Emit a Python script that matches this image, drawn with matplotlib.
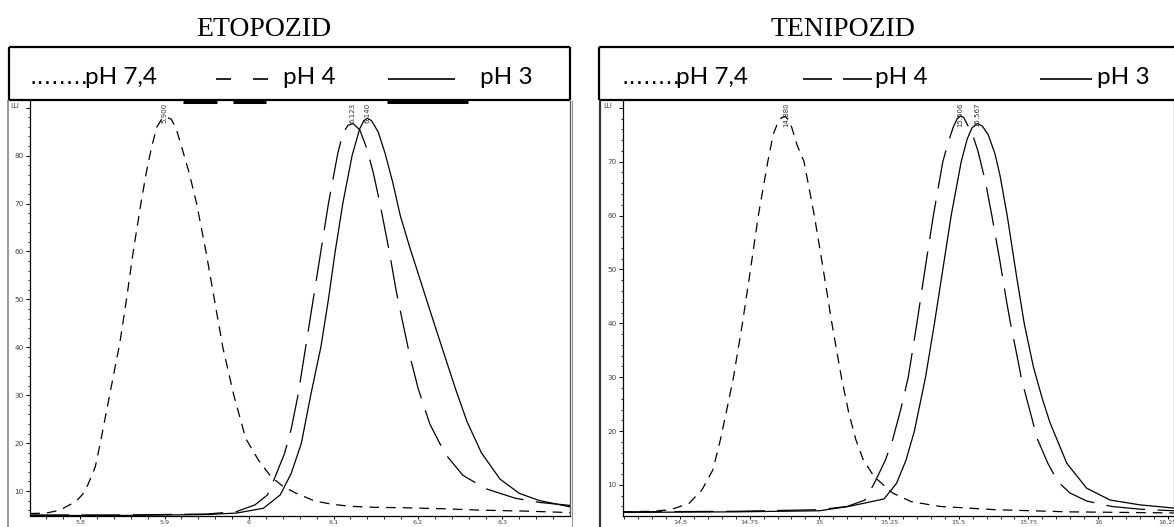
import matplotlib
matplotlib.use("Agg")
import matplotlib.pyplot as plt
from matplotlib.lines import Line2D
from matplotlib.ticker import MultipleLocator, FuncFormatter

# ETOPOZID - chromatogram traces
eto_ph74_x = [5.741, 5.760, 5.776, 5.795, 5.803, 5.809, 5.818, 5.824, 5.835, 5.847,
              5.855, 5.863, 5.872, 5.879, 5.885, 5.891, 5.897, 5.9025, 5.908, 5.914,
              5.920, 5.929, 5.938, 5.949, 5.959, 5.969, 5.982, 5.996, 6.011, 6.026,
              6.040, 6.055, 6.078, 6.100, 6.121, 6.150, 6.187, 6.230, 6.276, 6.330, 6.380]
eto_ph74_y = [5.3, 5.4, 6.0, 7.8, 9.3, 11.2, 15.0, 20.0, 30.0, 40.8,
              50.0, 60.0, 70.0, 77.0, 82.0, 86.0, 87.7, 88.0, 87.6, 85.5,
              82.0, 76.5, 70.0, 60.0, 50.0, 40.0, 30.0, 21.0, 16.5, 13.0,
              11.0, 9.6, 7.9, 7.2, 6.8, 6.6, 6.5, 6.3, 6.0, 5.8, 5.5]

eto_ph4_x = [5.741, 5.850, 5.950, 5.985, 6.007, 6.022, 6.031, 6.042, 6.050, 6.058,
             6.067, 6.076, 6.085, 6.094, 6.105, 6.111, 6.117, 6.123, 6.131, 6.139,
             6.147, 6.155, 6.166, 6.175, 6.181, 6.190, 6.200, 6.214, 6.232, 6.253,
             6.280, 6.315, 6.345, 6.380]
eto_ph4_y = [5.0, 5.0, 5.2, 5.7, 7.1, 9.2, 13.0, 17.8, 23.0, 30.0,
             40.0, 50.0, 60.0, 70.0, 80.4, 84.6, 86.3, 86.7, 85.4, 81.7,
             76.5, 70.0, 60.0, 51.0, 46.0, 38.5, 31.5, 24.0, 17.8, 13.3,
             10.5, 8.5, 7.6, 7.0]

eto_ph3_x = [5.741, 5.850, 5.950, 5.985, 6.017, 6.037, 6.050, 6.062, 6.073, 6.085,
             6.094, 6.102, 6.111, 6.122, 6.131, 6.136, 6.140, 6.145, 6.153, 6.161,
             6.170, 6.179, 6.190, 6.200, 6.210, 6.220, 6.232, 6.245, 6.258, 6.275,
             6.297, 6.320, 6.344, 6.380]
eto_ph3_y = [4.9, 4.9, 5.1, 5.4, 6.4, 9.2, 13.7, 20.0, 30.0, 40.0,
             50.0, 60.0, 70.0, 80.0, 85.6, 87.3, 87.8, 87.3, 84.9, 80.5,
             74.5, 67.5, 61.0, 55.5, 50.0, 44.5, 38.0, 31.0, 24.5, 18.0,
             12.5, 9.5, 8.0, 6.7]

eto_peaks = [5.900, 6.123, 6.140]

# TENIPOZID
ten_ph74_x = [14.296, 14.400, 14.467, 14.533, 14.579, 14.618, 14.645, 14.668, 14.692, 14.724,
              14.753, 14.781, 14.815, 14.834, 14.852, 14.865, 14.877, 14.890, 14.902, 14.920,
              14.945, 14.982, 15.014, 15.045, 15.079, 15.105, 15.131, 15.158, 15.197, 15.263,
              15.329, 15.434, 15.632, 15.895, 16.272]
ten_ph74_y = [5.0, 5.1, 5.4, 6.6, 9.1, 12.8, 18.4, 24.0, 30.0, 40.0,
              50.0, 60.0, 70.0, 75.0, 77.4, 78.2, 78.4, 77.8, 76.2, 73.1,
              70.0, 60.0, 50.0, 40.0, 30.0, 23.5, 18.4, 14.6, 11.5, 8.5,
              6.9, 6.0, 5.4, 5.0, 4.8]

ten_ph4_x = [14.296, 14.700, 15.000, 15.100, 15.164, 15.197, 15.237, 15.263, 15.292, 15.319,
             15.350, 15.379, 15.409, 15.443, 15.463, 15.481, 15.494, 15.506, 15.518, 15.530,
             15.550, 15.569, 15.595, 15.619, 15.648, 15.672, 15.684, 15.713, 15.726, 15.767,
             15.780, 15.820, 15.856, 15.899, 15.960, 16.049, 16.150, 16.272]
ten_ph4_y = [5.0, 5.1, 5.4, 6.0, 7.2, 10.3, 14.6, 18.4, 24.0, 30.0,
             40.0, 50.0, 60.0, 70.0, 73.7, 76.5, 77.9, 78.5, 78.2, 77.0,
             75.0, 72.0, 66.5, 60.0, 51.5, 44.0, 40.5, 33.0, 29.5, 21.5,
             18.8, 14.0, 10.6, 8.5, 7.0, 6.0, 5.5, 5.2]

ten_ph3_x = [14.296, 14.700, 15.000, 15.105, 15.160, 15.232, 15.277, 15.311, 15.341, 15.381,
             15.413, 15.443, 15.473, 15.509, 15.531, 15.548, 15.567, 15.585, 15.606, 15.630,
             15.648, 15.674, 15.708, 15.735, 15.768, 15.800, 15.828, 15.888, 15.959, 16.043,
             16.150, 16.272]
ten_ph3_y = [4.9, 5.0, 5.2, 6.0, 6.6, 7.4, 10.3, 14.6, 20.0, 30.0,
             40.0, 50.0, 60.0, 70.0, 74.3, 76.3, 77.1, 76.6, 75.0, 71.5,
             67.5, 60.0, 48.6, 40.0, 31.9, 26.0, 21.5, 14.0, 9.4, 7.2,
             6.3, 5.7]

ten_peaks = [14.880, 15.506, 15.567]

W, H = 1174, 527
plt.rcParams['lines.scale_dashes'] = False

fig = plt.figure(figsize=(W / 100, H / 100), dpi=100)


def fx(px):
    return px / W


def fy(py):
    return 1 - py / H


def fig_line(x0, y0, x1, y1, lw=1.0, color='black'):
    fig.add_artist(Line2D([fx(x0), fx(x1)], [fy(y0), fy(y1)], lw=lw, color=color,
                          transform=fig.transFigure, solid_capstyle='butt'))


def panel(left_px, width_px, xlim, ylim, xmajor, xminor, curves, peaks, ytop):
    ax = fig.add_axes([fx(left_px), fy(516), width_px / W, 415 / H])
    ax.set_xlim(xlim)
    ax.set_ylim(ylim)
    styles = [dict(dashes=(7, 5)), dict(dashes=(28, 9)), dict(linestyle='-')]
    for (x, y), st in zip(curves, styles):
        ax.plot(x, y, color='black', lw=0.9, zorder=3, **st)
    for p in peaks:
        ax.text(p, ylim[1] - 0.3, '%.3f' % p, rotation=90,
                ha='center', va='top', fontsize=5, color='#333333', zorder=2)
    ax.xaxis.set_major_locator(MultipleLocator(xmajor))
    ax.xaxis.set_minor_locator(MultipleLocator(xminor))
    ax.yaxis.set_major_locator(MultipleLocator(10))
    ax.yaxis.set_minor_locator(MultipleLocator(2))
    ax.xaxis.set_major_formatter(FuncFormatter(lambda v, pos: '%g' % round(v, 3)))
    # the top tick carries the unit label instead of a number
    ax.yaxis.set_major_formatter(FuncFormatter(lambda v, pos: '' if round(v) >= ytop else '%d' % round(v)))
    ax.tick_params(axis='x', which='major', length=2.5, width=0.7, labelsize=4.6,
                   labelcolor='#444444', pad=0.6)
    ax.tick_params(axis='y', which='major', length=3, width=0.7, labelsize=5.2,
                   labelcolor='#444444', pad=1.5)
    ax.tick_params(which='minor', length=1.8, width=0.6)
    ax.spines['top'].set_visible(False)
    for s in ['left', 'bottom', 'right']:
        ax.spines[s].set_linewidth(0.9)
    ax.spines['right'].set_color('#555555')
    return ax


ax1 = panel(30, 540, (5.7408, 6.3799), (4.79, 91.4), 0.1, 0.02,
            [(eto_ph74_x, eto_ph74_y), (eto_ph4_x, eto_ph4_y), (eto_ph3_x, eto_ph3_y)],
            eto_peaks, 90)
ax2 = panel(623, 551, (14.2955, 16.2725), (4.23, 81.27), 0.25, 0.05,
            [(ten_ph74_x, ten_ph74_y), (ten_ph4_x, ten_ph4_y), (ten_ph3_x, ten_ph3_y)],
            ten_peaks, 80)

fig.text(fx(15), fy(106), 'LU', fontsize=5.2, color='#444444', ha='center', va='center')
fig.text(fx(608), fy(106), 'LU', fontsize=5.2, color='#444444', ha='center', va='center')

# titles
fig.text(fx(264), fy(29), 'ETOPOZID', fontsize=20, family='Liberation Serif', ha='center', va='center')
fig.text(fx(843), fy(29), 'TENIPOZID', fontsize=20, family='Liberation Serif', ha='center', va='center')

# legend boxes
for x0, x1 in [(9, 570), (599, 1180)]:
    fig_line(x0, 47, x1, 47, lw=1.6)
    fig_line(x0, 100, x1, 100, lw=1.6)
    fig_line(x0, 47, x0, 100, lw=1.6)
    fig_line(x1, 47, x1, 100, lw=1.6)

# outer frames below the boxes
fig_line(8, 100, 8, 527, lw=1.2, color='#888888')
fig_line(600, 100, 600, 527, lw=1.6, color='#333333')
fig_line(571.5, 100, 571.5, 527, lw=0.8, color='#999999')

# legend line samples sitting on the box edge
for x0, x1 in [(183, 217), (233, 266), (387, 468)]:
    fig_line(x0, 101.5, x1, 101.5, lw=2.2)

# legend keys
for x0, x1 in [(216, 231), (253, 268), (388, 455), (803, 832), (843, 872), (1040, 1092)]:
    fig_line(x0, 79, x1, 79, lw=1.2)

lf = dict(fontsize=17.5, family='Lato', va='center', ha='left')
fig.text(fx(30), fy(77), '........', fontsize=16.5, family='DejaVu Sans', va='center', ha='left')
fig.text(fx(85), fy(77), 'pH 7,4', **lf)
fig.text(fx(283), fy(77), 'pH 4', **lf)
fig.text(fx(480), fy(77), 'pH 3', **lf)

fig.text(fx(621), fy(77), '........', fontsize=16.5, family='DejaVu Sans', va='center', ha='left')
fig.text(fx(676), fy(77), 'pH 7,4', **lf)
fig.text(fx(875), fy(77), 'pH 4', **lf)
fig.text(fx(1097), fy(77), 'pH 3', **lf)

fig.savefig('out.png', dpi=100)
